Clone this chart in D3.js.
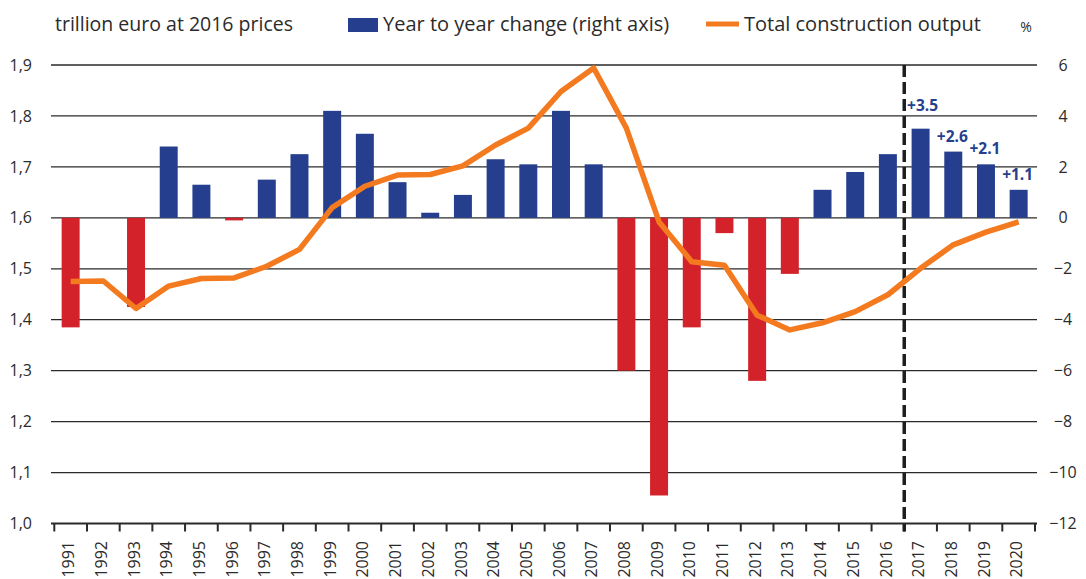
<!DOCTYPE html>
<html>
<head>
  <meta charset="UTF-8">
  <title>Construction output</title>
  <style>
    body { margin: 0; background: #fff; }
    text { font-family: "Open Sans", Lato, sans-serif; fill: #2b2b2b; }
  </style>
</head>
<body>
<script src="https://d3js.org/d3.v7.min.js"></script>
<script>
// years on the x axis
let years = d3.range(1991, 2021).map(String);
// year to year change, % (right axis)
let change = [-4.3, 0, -3.5, 2.8, 1.3, -0.1, 1.5, 2.5, 4.2, 3.3,
              1.4, 0.2, 0.9, 2.3, 2.1, 4.2, 2.1, -6.0, -10.9, -4.3,
              -0.6, -6.4, -2.2, 1.1, 1.8, 2.5, 3.5, 2.6, 2.1, 1.1];
// total construction output, trillion euro at 2016 prices (left axis)
let output = [1.475, 1.476, 1.422, 1.466, 1.481, 1.482, 1.505, 1.538, 1.620, 1.662,
              1.684, 1.685, 1.702, 1.743, 1.776, 1.848, 1.894, 1.776, 1.592, 1.514,
              1.507, 1.409, 1.380, 1.394, 1.416, 1.449, 1.501, 1.547, 1.572, 1.592];
let leftTicks = [1.0, 1.1, 1.2, 1.3, 1.4, 1.5, 1.6, 1.7, 1.8, 1.9];
let rightTicks = [-12, -10, -8, -6, -4, -2, 0, 2, 4, 6];
// years that get a value label above the bar
let labelled = ["2017", "2018", "2019", "2020"];

let width = 1086, height = 579;
let blue = "#253f8e", red = "#d3222a", orange = "#f47a20";
let font = "'Open Sans', Lato, sans-serif";

let svg = d3.select("body").append("svg")
  .attr("width", width)
  .attr("height", height);

let x = d3.scaleBand().domain(years).range([54.3, 1035]).padding(0);
let yL = d3.scaleLinear().domain([1.0, 1.9]).range([523.5, 65]);
let yR = d3.scaleLinear().domain([-12, 6]).range([523.5, 65]);
let barW = x.bandwidth() * 0.55;

// gridlines
svg.append("g").selectAll("line")
  .data(leftTicks.slice(1))
  .enter().append("line")
  .attr("x1", 51).attr("x2", 1037)
  .attr("y1", d => yL(d)).attr("y2", d => yL(d))
  .attr("stroke", "#2a2a2a").attr("stroke-width", 1.3);

// bars
svg.append("g").selectAll("rect")
  .data(change)
  .enter().append("rect")
  .attr("x", (d, i) => x(years[i]) + (x.bandwidth() - barW) / 2)
  .attr("y", d => yR(Math.max(0, d)))
  .attr("width", barW)
  .attr("height", d => Math.abs(yR(d) - yR(0)))
  .attr("fill", d => d >= 0 ? blue : red);

// x axis line and ticks at band edges
svg.append("line")
  .attr("x1", 51).attr("x2", 1037)
  .attr("y1", yL(1.0)).attr("y2", yL(1.0))
  .attr("stroke", "#2a2a2a").attr("stroke-width", 2);
let edges = years.map(d => x(d)).concat([x.range()[1]]);
svg.append("g").selectAll("line")
  .data(edges)
  .enter().append("line")
  .attr("x1", d => d).attr("x2", d => d)
  .attr("y1", yL(1.0)).attr("y2", yL(1.0) + 8)
  .attr("stroke", "#2a2a2a").attr("stroke-width", 2);

// year labels
svg.append("g").selectAll("text")
  .data(years)
  .enter().append("text")
  .attr("transform", d => "translate(" + (x(d) + x.bandwidth() / 2 - 2) + "," + 541 + ") rotate(-90)")
  .attr("text-anchor", "end")
  .attr("dy", "0.35em")
  .attr("font-size", "16px")
  .text(d => d);

// left axis
let leftAxis = d3.axisLeft(yL).tickValues(leftTicks).tickSize(0).tickPadding(0)
  .tickFormat(d => d.toFixed(1).replace(".", ","));
svg.append("g")
  .attr("transform", "translate(32,0)")
  .call(leftAxis)
  .call(g => g.select(".domain").remove())
  .call(g => g.selectAll("text").attr("font-size", "16px").attr("font-family", font).attr("fill", "#2b2b2b"));

// right axis
let rightAxis = d3.axisRight(yR).tickValues(rightTicks).tickSize(0).tickPadding(0);
svg.append("g")
  .attr("transform", "translate(1063,0)")
  .call(rightAxis)
  .call(g => g.select(".domain").remove())
  .call(g => g.selectAll("text").attr("text-anchor", "middle").attr("font-size", "16px")
    .attr("font-family", font).attr("fill", "#2b2b2b"));

// forecast divider
svg.append("line")
  .attr("x1", x("2017")).attr("x2", x("2017"))
  .attr("y1", yL(1.9)).attr("y2", yL(1.0) + 8)
  .attr("stroke", "#1e1e1e").attr("stroke-width", 3.5)
  .attr("stroke-dasharray", "12,5");

// output line
let line = d3.line()
  .x((d, i) => x(years[i]) + x.bandwidth() / 2)
  .y(d => yL(d));
svg.append("path")
  .datum(output)
  .attr("d", line)
  .attr("fill", "none")
  .attr("stroke", orange)
  .attr("stroke-width", 5.5)
  .attr("stroke-linejoin", "round");

// value labels
svg.append("g").selectAll("text")
  .data(labelled)
  .enter().append("text")
  .attr("x", (d, i) => x(d) + x.bandwidth() / 2 + (i === 0 ? 2 : -1))
  .attr("y", (d, i) => yR(change[years.indexOf(d)]) - (i === 0 ? 18 : 10))
  .attr("text-anchor", "middle")
  .attr("font-size", "15.5px")
  .attr("font-weight", "bold")
  .style("fill", blue)
  .text(d => "+" + change[years.indexOf(d)].toFixed(1));

// title and legend
svg.append("text").attr("x", 55).attr("y", 31).attr("font-size", "19.5px")
  .text("trillion euro at 2016 prices");
svg.append("rect").attr("x", 348).attr("y", 18).attr("width", 30).attr("height", 14).attr("fill", blue);
svg.append("text").attr("x", 383).attr("y", 31).attr("font-size", "20px")
  .text("Year to year change (right axis)");
svg.append("line").attr("x1", 706).attr("x2", 739).attr("y1", 24).attr("y2", 24)
  .attr("stroke", orange).attr("stroke-width", 5);
svg.append("text").attr("x", 744).attr("y", 31).attr("font-size", "20px")
  .text("Total construction output");
svg.append("text").attr("x", 1026).attr("y", 32).attr("font-size", "14px")
  .attr("text-anchor", "middle").text("%");
</script>
</body>
</html>
